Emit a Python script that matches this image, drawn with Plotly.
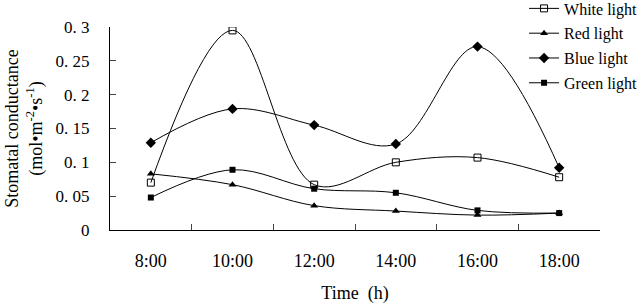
import plotly.graph_objects as go

times = ["8:00", "10:00", "12:00", "14:00", "16:00", "18:00"]
white = [0.070, 0.295, 0.067, 0.100, 0.107, 0.078]
red = [0.083, 0.067, 0.036, 0.028, 0.022, 0.025]
blue = [0.129, 0.179, 0.155, 0.127, 0.271, 0.092]
green = [0.048, 0.089, 0.061, 0.055, 0.029, 0.025]
y_ticks = [0, 0.05, 0.1, 0.15, 0.2, 0.25, 0.3]
y_ticktext = ["0", "0. 05", "0. 1", "0. 15", "0. 2", "0. 25", "0. 3"]

series = [
    ("White light", white, dict(symbol="square-open", size=7, color="black", line=dict(width=1))),
    ("Red light", red, dict(symbol="triangle-up", size=7, color="black")),
    ("Blue light", blue, dict(symbol="diamond", size=8, color="black")),
    ("Green light", green, dict(symbol="square", size=6, color="black")),
]

fig = go.Figure()
for i, (name, vals, mk) in enumerate(series):
    fig.add_trace(go.Scatter(
        x=times, y=vals, name=name, mode="lines+markers",
        line=dict(color="black", width=1, shape="spline", smoothing=1.0),
        marker=mk, legendgroup=str(i),
    ))

font = "Liberation Serif, Times New Roman, serif"
fig.update_layout(
    width=641, height=304,
    margin=dict(l=110, r=41, t=27, b=74, autoexpand=False),
    paper_bgcolor="white", plot_bgcolor="white",
    font=dict(family=font, size=15, color="black"),
    showlegend=True,
    legend=dict(x=0.845, y=1.175, xanchor="left", yanchor="top",
                font=dict(size=16), tracegroupgap=1,
                bgcolor="rgba(0,0,0,0)", itemwidth=30),
    xaxis=dict(type="category", tickson="boundaries", ticks="inside", ticklen=6,
               showline=True, linecolor="black", linewidth=1, showgrid=False,
               tickfont=dict(size=18), range=[-0.5, 5.5], automargin=False,
               ticklabelstandoff=14,
               title=dict(text="Time  (h)", font=dict(size=18), standoff=17)),
    yaxis=dict(range=[0, 0.3], tickvals=y_ticks, ticktext=y_ticktext,
               ticks="inside", ticklen=6, showline=True, linecolor="black",
               linewidth=1, showgrid=False, zeroline=False, tickfont=dict(size=17),
               ticklabelstandoff=16, automargin=False,
               title=dict(text="Stomatal conductance<br>(mol•m<sup>-2</sup>•s<sup>-1</sup>)",
                          font=dict(size=18), standoff=8)),
)
fig.write_html("out.html", config={"displayModeBar": False},
               post_script="document.body.style.margin='0';")
